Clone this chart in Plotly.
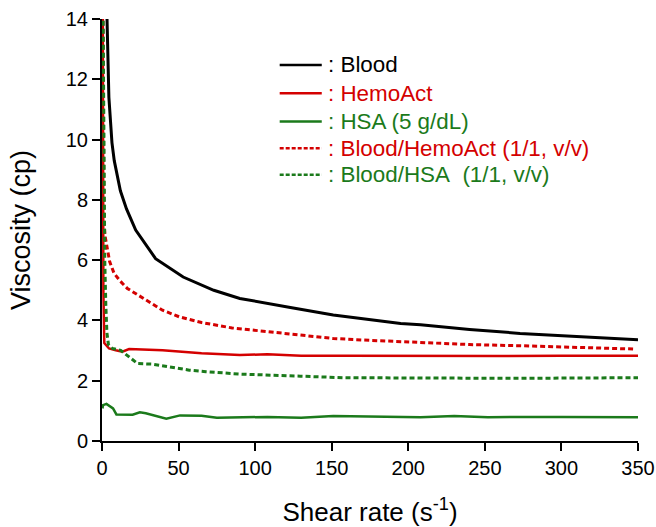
import plotly.graph_objects as go

# Shear rate (s^-1) and viscosity (cp) values
blood_x = [3.0, 4.5, 6.5, 8.0, 12.0, 16.0, 22.0, 25.0, 35.0, 53.0, 73.0, 90.0, 108.0, 123.0, 151.0, 195.0, 208.0, 240.0, 273.0, 317.0, 350.0]
blood_y = [14.6, 11.4, 9.9, 9.3, 8.3, 7.7, 7.0, 6.77, 6.05, 5.44, 5.0, 4.73, 4.56, 4.43, 4.18, 3.9, 3.86, 3.7, 3.57, 3.44, 3.36]

hemo_x = [0.5, 0.9, 1.5, 4.6, 9.0, 13.3, 17.7, 25.0, 39.5, 65.0, 90.0, 108.0, 130.0, 160.0, 208.0, 260.0, 300.0, 350.0]
hemo_y = [15.0, 5.0, 3.25, 3.07, 3.01, 2.96, 3.05, 3.04, 3.01, 2.91, 2.85, 2.88, 2.83, 2.83, 2.82, 2.82, 2.83, 2.83]

hsa_x = [0.3, 0.7, 2.9, 5.0, 7.2, 9.4, 17.7, 20.0, 24.7, 28.6, 42.0, 51.0, 65.0, 75.0, 108.0, 130.0, 151.0, 208.0, 230.0, 252.0, 300.0, 350.0]
hsa_y = [1.08, 1.19, 1.23, 1.16, 1.08, 0.88, 0.88, 0.87, 0.95, 0.92, 0.74, 0.85, 0.84, 0.77, 0.80, 0.77, 0.83, 0.79, 0.83, 0.79, 0.80, 0.79]

bh_x = [0.5, 1.0, 1.3, 2.0, 3.5, 5.0, 7.9, 12.0, 16.6, 28.6, 39.5, 50.4, 65.0, 85.0, 108.0, 130.0, 151.0, 175.0, 195.0, 208.0, 240.0, 273.0, 310.0, 348.0]
bh_y = [15.0, 9.0, 7.3, 6.8, 6.33, 5.95, 5.56, 5.3, 5.06, 4.67, 4.34, 4.12, 3.93, 3.75, 3.62, 3.5, 3.4, 3.34, 3.29, 3.27, 3.2, 3.16, 3.1, 3.05]

bs_x = [0.6, 1.2, 1.8, 2.5, 3.2, 4.2, 6.8, 12.2, 17.7, 23.2, 33.0, 43.9, 57.0, 67.9, 90.0, 129.5, 157.8, 208.0, 273.5, 350.0]
bs_y = [15.0, 9.0, 6.0, 4.5, 3.6, 3.2, 3.07, 3.01, 2.79, 2.57, 2.55, 2.46, 2.35, 2.30, 2.22, 2.15, 2.10, 2.09, 2.08, 2.10]

x_ticks = [0, 50, 100, 150, 200, 250, 300, 350]
y_ticks = [0, 2, 4, 6, 8, 10, 12, 14]

RED = "#d40000"
GREEN = "#1b7a1b"

series = [
    (": Blood", blood_x, blood_y, "black", 3, "solid"),
    (": HemoAct", hemo_x, hemo_y, RED, 2.5, "solid"),
    (": HSA (5 g/dL)", hsa_x, hsa_y, GREEN, 2.5, "solid"),
    (": Blood/HemoAct (1/1, v/v)", bh_x, bh_y, RED, 3, "5px,3px"),
    (": Blood/HSA\u00a0 (1/1, v/v)", bs_x, bs_y, GREEN, 3, "5px,3px"),
]

fig = go.Figure()
for name, xs, ys, col, w, dash in series:
    fig.add_trace(go.Scatter(x=xs, y=ys, mode="lines", name=name, showlegend=False,
                             line=dict(color=col, width=w, dash=dash)))

# Legend drawn as keys + labels (paper coordinates)
leg_y = [0.891, 0.824, 0.757, 0.694, 0.631]
key_x0, key_x1, text_x = 0.3315, 0.410, 0.418
for (name, xs, ys, col, w, dash), yy in zip(series, leg_y):
    fig.add_shape(type="line", xref="paper", yref="paper",
                  x0=key_x0, x1=key_x1, y0=yy, y1=yy,
                  line=dict(color=col, width=2.5, dash="solid" if dash == "solid" else "4px,2px"))
    fig.add_annotation(xref="paper", yref="paper", x=text_x, y=yy, text=name,
                       showarrow=False, xanchor="left", yanchor="middle",
                       font=dict(size=22.4, color=col))

font_family = "Liberation Sans, Arial, sans-serif"
fig.update_layout(
    width=656, height=527, autosize=False,
    margin=dict(l=102, r=18, t=19, b=86, autoexpand=False),
    paper_bgcolor="white", plot_bgcolor="white",
    font=dict(family=font_family, size=20, color="black"),
    showlegend=False,
)
fig.update_xaxes(range=[0, 350], tickvals=x_ticks, showgrid=False, zeroline=False,
                 automargin=False,
                 showline=True, linecolor="black", linewidth=2,
                 ticks="outside", ticklen=8, tickwidth=2, tickcolor="black",
                 tickfont=dict(size=20),
                 title=dict(text="Shear rate (s<sup>-1</sup>)", font=dict(size=26), standoff=31))
fig.update_yaxes(range=[0, 14], tickvals=y_ticks, showgrid=False, zeroline=False,
                 automargin=False,
                 showline=True, linecolor="black", linewidth=2,
                 ticks="outside", ticklen=8, tickwidth=2, tickcolor="black",
                 tickfont=dict(size=20),
                 title=dict(text="Viscosity (cp)", font=dict(size=27), standoff=27))

fig.write_html("out.html", config={"displayModeBar": False},
               post_script="document.body.style.margin='0';document.body.style.overflow='hidden';")
